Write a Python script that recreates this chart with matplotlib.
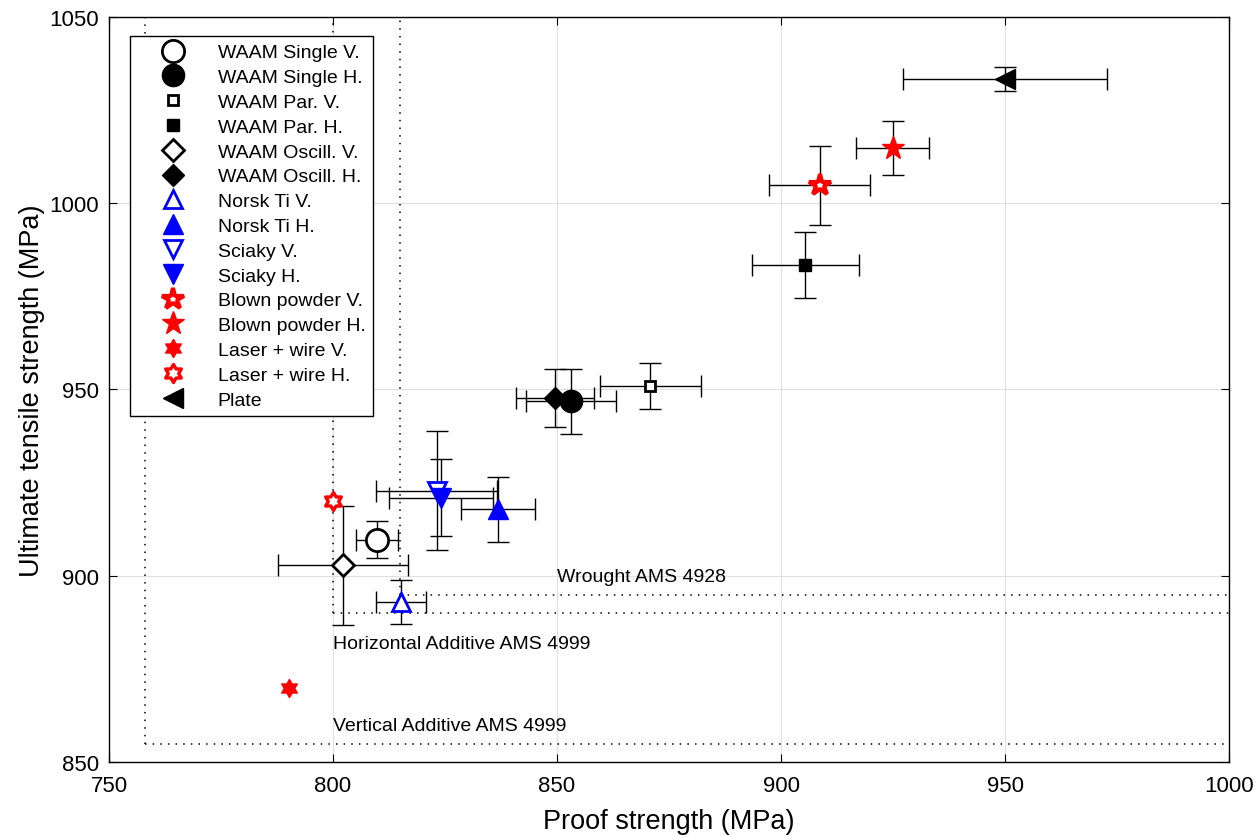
import numpy as np
import matplotlib.pyplot as plt
from matplotlib.path import Path

plt.rcParams['font.family'] = ['Liberation Sans', 'DejaVu Sans']

# --- data ---
names = ["WAAM Single V.", "WAAM Single H.", "WAAM Par. V.", "WAAM Par. H.",
         "WAAM Oscill. V.", "WAAM Oscill. H.", "Norsk Ti V.", "Norsk Ti H.",
         "Sciaky V.", "Sciaky H.", "Blown powder V.", "Blown powder H.",
         "Laser + wire V.", "Laser + wire H.", "Plate"]
proof = [809.8, 853.1, 870.8, 905.4, 802.2, 849.6, 815.2, 836.8,
         823.1, 824.1, 908.6, 924.9, 790.2, 800.0, 950.0]
proof_err = [4.6, 10.0, 11.3, 11.9, 14.5, 8.7, 5.5, 8.2,
             13.6, 11.7, 11.3, 8.2, 0, 0, 22.7]
uts = [909.7, 946.8, 951.0, 983.4, 902.8, 947.8, 893.0, 917.9,
       922.9, 921.0, 1004.7, 1014.7, 869.9, 920.1, 1033.3]
uts_err = [5.0, 8.8, 6.2, 8.8, 16.0, 7.8, 5.8, 8.7,
           16.0, 10.3, 10.7, 7.3, 0, 0, 3.3]

# standards (minimum proof / UTS) and their labels
std_proof = [815, 800, 758]
std_uts = [895, 890, 855]
std_names = ["Wrought AMS 4928", "Horizontal Additive AMS 4999", "Vertical Additive AMS 4999"]
std_label_x = [850, 800, 800]
std_label_y = [899.8, 881.8, 859.8]

# hexagram marker
ang_out = np.pi / 2 + np.arange(6) * np.pi / 3
ang_in = ang_out + np.pi / 6
r_in = 1 / np.sqrt(3)
hex_verts = []
for a, b in zip(ang_out, ang_in):
    hex_verts.append((np.cos(a), np.sin(a)))
    hex_verts.append((r_in * np.cos(b), r_in * np.sin(b)))
hex_verts.append(hex_verts[0])
hexagram = Path(hex_verts, closed=True)

blue = "#0000ff"
red = "#ff0000"
# marker, size, face, edge, edge width
styles = [
    ("o", 16, "white", "black", 2.0),
    ("o", 16, "black", "black", 1.0),
    ("s", 7, "white", "black", 2.0),
    ("s", 9, "black", "black", 1.0),
    ("D", 11, "white", "black", 2.0),
    ("D", 11, "black", "black", 1.0),
    ("^", 13, "white", blue, 2.0),
    ("^", 14, blue, blue, 1.0),
    ("v", 13, "white", blue, 2.0),
    ("v", 14, blue, blue, 1.0),
    ("*", 16, "white", red, 3.0),
    ("*", 17, red, red, 1.0),
    (hexagram, 13, red, red, 1.0),
    (hexagram, 13, "white", red, 2.4),
    ("<", 15, "black", "black", 1.0),
]

fig = plt.figure(figsize=(12.6, 8.37), dpi=100)
ax = fig.add_axes([0.0865, 0.088, 0.889, 0.891])

# standard limits (dotted)
for p, u in zip(std_proof, std_uts):
    ax.plot([p, p], [u, 1050], ls=(0, (1, 4)), color="black", lw=1.1, zorder=1)
    ax.plot([p, 1000], [u, u], ls=(0, (1, 4)), color="black", lw=1.1, zorder=1)
for lx, ly, t in zip(std_label_x, std_label_y, std_names):
    ax.text(lx, ly, t, fontsize=14, ha="left", va="center")

for i in range(len(names)):
    m, ms, fc, ec, mew = styles[i]
    if proof_err[i] > 0:
        ax.errorbar(proof[i], uts[i], xerr=proof_err[i], yerr=uts_err[i], fmt="none",
                    ecolor="black", elinewidth=1.0, capsize=8, capthick=1.0, zorder=2)
    ax.plot(proof[i], uts[i], ls="none", marker=m, ms=ms, mfc=fc, mec=ec, mew=mew,
            label=names[i], zorder=3)

ax.set_xlim(750, 1000)
ax.set_ylim(850, 1050)
ax.set_xticks([750, 800, 850, 900, 950, 1000])
ax.set_yticks([850, 900, 950, 1000, 1050])
ax.grid(True, color="#e0e0e0", lw=0.8)
ax.set_axisbelow(True)
ax.tick_params(direction="in", top=True, right=True, labelsize=16, length=6)
ax.tick_params(axis="x", pad=9)
ax.tick_params(axis="y", pad=7)
for s in ax.spines.values():
    s.set_linewidth(1.0)
ax.set_xlabel("Proof strength (MPa)", fontsize=19.5, labelpad=9)
ax.set_ylabel("Ultimate tensile strength (MPa)", fontsize=19.5, labelpad=3)

leg = ax.legend(loc="upper left", bbox_to_anchor=(130 / 1260, 1 - 37 / 837),
                bbox_transform=fig.transFigure, borderaxespad=0, fontsize=14,
                frameon=True, fancybox=False, framealpha=1, edgecolor="black",
                borderpad=0.4, labelspacing=0.37, handletextpad=0.5,
                handlelength=3.6, markerscale=1.0)
leg.get_frame().set_linewidth(1.0)

fig.savefig("out.png", dpi=100)
